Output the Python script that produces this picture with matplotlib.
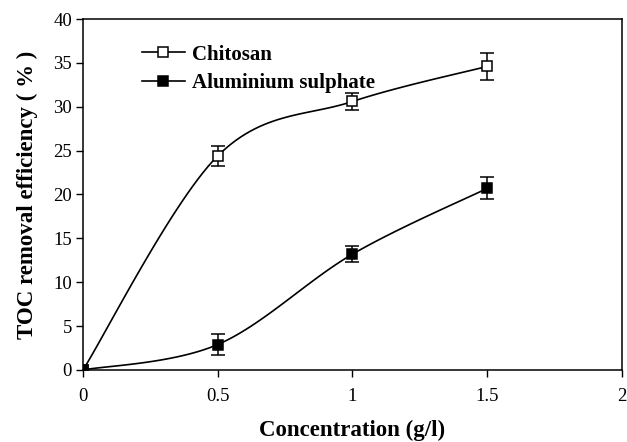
import numpy as np
import matplotlib.pyplot as plt
from matplotlib.lines import Line2D

plt.rcParams['font.family'] = ['Liberation Serif', 'DejaVu Serif']

# Data
conc = [0, 0.5, 1.0, 1.5]
chitosan = [0, 24.4, 30.6, 34.6]
chitosan_err = [0, 1.1, 1.0, 1.5]
alum = [0, 2.9, 13.2, 20.7]
alum_err = [0, 1.15, 0.95, 1.25]


def smooth(xs, ys, n=30):
    """Excel-style smoothed line (cubic Bezier, tension 1/6)."""
    p = np.column_stack([xs, ys]).astype(float)
    pts = []
    for i in range(len(p) - 1):
        prev = p[i - 1] if i > 0 else p[i]
        nxt = p[i + 2] if i + 2 < len(p) else p[i + 1]
        c1 = p[i] + (p[i + 1] - prev) / 6
        c2 = p[i + 1] - (nxt - p[i]) / 6
        t = np.linspace(0, 1, n)[:, None]
        seg = ((1 - t) ** 3 * p[i] + 3 * (1 - t) ** 2 * t * c1
               + 3 * (1 - t) * t ** 2 * c2 + t ** 3 * p[i + 1])
        pts.append(seg if i == 0 else seg[1:])
    pts = np.vstack(pts)
    return pts[:, 0], pts[:, 1]


fig, ax = plt.subplots(figsize=(6.27, 4.42), dpi=100)
fig.subplots_adjust(left=0.1324, right=0.992, bottom=0.163, top=0.957)

for y, err, face in [(chitosan, chitosan_err, 'white'), (alum, alum_err, 'black')]:
    sx, sy = smooth(conc, y)
    ax.plot(sx, sy, color='black', lw=1.2, zorder=2)
    ax.errorbar(conc[1:], y[1:], yerr=err[1:], fmt='none', ecolor='black',
                elinewidth=1.1, capsize=5, capthick=1.1, zorder=3)
    ax.plot(conc, y, ls='none', marker='s', ms=6.5, mfc=face, mec='black',
            mew=1.1, zorder=4)

ax.set_xlim(0, 2)
ax.set_ylim(0, 40)
ax.set_xticks([0, 0.5, 1, 1.5, 2])
ax.set_xticklabels(['0', '0.5', '1', '1.5', '2'])
ax.set_yticks(range(0, 41, 5))
ax.tick_params(direction='out', length=5, width=1, labelsize=13.5)
ax.tick_params(axis='x', pad=8)
ax.tick_params(axis='y', pad=3)
for s in ax.spines.values():
    s.set_linewidth(1.1)

ax.set_xlabel('Concentration (g/l)', fontsize=16.5, fontweight='bold', labelpad=11)
ax.set_ylabel('TOC removal efficiency ( % )', fontsize=16.5, fontweight='bold', labelpad=11)

handles = [
    Line2D([], [], color='black', lw=1.2, marker='s', ms=6.5, mfc='white', mec='black', mew=1.1),
    Line2D([], [], color='black', lw=1.2, marker='s', ms=6.5, mfc='black', mec='black', mew=1.1),
]
ax.legend(handles, ['Chitosan', 'Aluminium sulphate'], loc='upper left',
          bbox_to_anchor=(0.2265, 0.899), bbox_transform=fig.transFigure,
          frameon=False, borderpad=0, borderaxespad=0, handlelength=2.05,
          handletextpad=0.33, labelspacing=0.4,
          prop={'size': 15, 'weight': 'bold'})

fig.savefig('out.png', dpi=100)
